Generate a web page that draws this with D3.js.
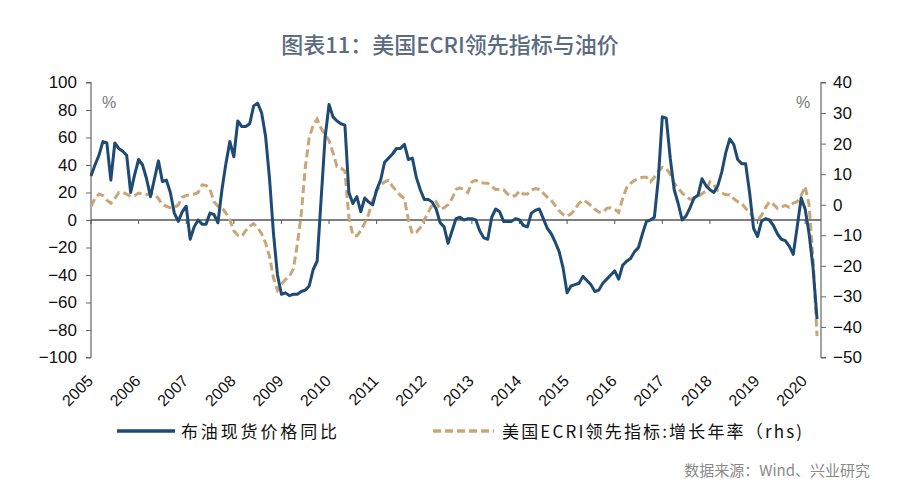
<!DOCTYPE html>
<html><head><meta charset="utf-8">
<script src="https://cdn.jsdelivr.net/npm/d3@7"></script>
<style>body{margin:0;background:#fff}svg{display:block}</style>
</head><body>
<svg id="c" width="900" height="493"></svg>
<script>
const years = ["2005","2006","2007","2008","2009","2010","2011","2012","2013","2014","2015","2016","2017","2018","2019","2020"];
const leftTicks = [100,80,60,40,20,0,-20,-40,-60,-80,-100];
const rightTicks = [40,30,20,10,0,-10,-20,-30,-40,-50];
// Brent spot price YoY (%), monthly Jan 2005 - Apr 2020 (left axis)
const brentYoY = [32,40,47,57,56,29,56,52,50,47,20,33,44,40,30,17,30,43,28,29,
20,5,-1,6,10,-14,-5,0,-3,-3,5,4,-2,22,41,57,46,72,68,68,
70,83,85,78,61,30,-10,-40,-54,-53,-55,-54,-54,-52,-51,-48,-36,-30,15,60,
84,75,72,70,69,20,12,17,6,16,13,11,22,29,42,45,48,52,52,55,
44,45,31,22,15,15,13,8,-2,-5,-17,-8,1,2,0,1,1,0,-8,-13,
-14,2,8,6,-1,-1,-1,1,0,-4,-5,5,7,8,1,-6,-10,-16,-23,-35,
-53,-48,-47,-46,-41,-44,-47,-52,-51,-46,-43,-40,-37,-43,-33,-30,-28,-23,-20,-10,
-1,0,2,30,75,74,45,22,12,0,3,9,16,18,30,25,22,20,25,35,
49,59,55,44,41,41,20,-6,-12,-1,1,0,-4,-10,-14,-15,-19,-25,-5,16,
8,-10,-35,-72];
// US ECRI Weekly Leading Index, growth rate (%), rhs
const ecriGrowth = [-0.5,2,3.5,3,1.5,0.5,2,4,4,3.5,2.7,3,3.8,3.5,3.3,3.8,3.5,2,0,-0.5,
-1,-1,0,2.5,3,3.3,3.5,4,6.5,6.3,5,1,-0.5,-1,-2.7,-5,-8.5,-10,-10.4,-8.5,
-7,-6.2,-7.5,-9.5,-12.5,-17,-24,-28,-26,-24.5,-23.5,-21,-13,-3,12,22,26,28,25,23,
21,17,12.5,12,11,-4,-10,-10.2,-8.5,-6,-3,1.5,4.5,6.5,7.5,8,6,4.5,3,2,
-5,-9.5,-9,-7.5,-5,-2.5,0,1,-1.5,-1,0,2,5,5.5,5,4,7.5,8,7.3,7.1,
7,6,5,5,5,3.5,2.7,3,4.5,3.5,3.5,4.8,5.3,5,3.8,2.5,1.5,-0.3,-2,-3.2,
-3.8,-3,-1.5,0.5,1.5,0.8,-0.3,-1.5,-2.4,-2.5,-1.2,-1,-1.5,-2.5,2,5.5,7,8,8.5,9,
9,7.5,9,11,12.3,11.8,10,7,5.5,3.8,2.8,1.8,2,2.7,3.6,4.5,7.5,6.5,4.5,3.8,
3.3,3.3,2,1,0.5,-1.2,-2.3,-4.5,-5,-3.5,-1,1,0.2,-1.2,-0.8,-0.2,-0.8,0.5,1,3,
6,0,-18,-43];

const svg = d3.select("#c");
const L = 91, R = 821, T = 82.5, B = 357.5;
const x = d3.scaleLinear().domain([0,184]).range([L,R]);
const yL = d3.scaleLinear().domain([-100,100]).range([B,T]);
const yR = d3.scaleLinear().domain([-50,40]).range([B,T]);
const fmt = d => d < 0 ? "\u2212" + Math.abs(d) : String(d);
const axisFont = "'Liberation Sans', Arial, sans-serif";
const cjk = "'Noto Sans CJK SC', 'Noto Sans', sans-serif";

// title
svg.append("text").attr("x",450).attr("y",53).attr("text-anchor","middle")
  .attr("font-family",cjk).attr("font-size",22).attr("font-weight",500)
  .attr("fill","#5b6b80").text("图表11：美国ECRI领先指标与油价");

// left axis
const gl = svg.append("g").attr("transform",`translate(${L},0)`)
  .call(d3.axisLeft(yL).tickValues(leftTicks).tickSize(5).tickPadding(9).tickFormat(fmt));
gl.select(".domain").attr("stroke","#666").attr("stroke-width",1.2).attr("d",`M-5,${T}H0V${B}H-5`);
gl.selectAll(".tick line").attr("stroke","#666");
gl.selectAll("text").attr("font-family",axisFont).attr("font-size",17).attr("fill","#111");

// right axis
const gr = svg.append("g").attr("transform",`translate(${R},0)`)
  .call(d3.axisRight(yR).tickValues(rightTicks).tickSize(5).tickPadding(7).tickFormat(fmt));
gr.select(".domain").attr("stroke","#666").attr("stroke-width",1.2).attr("d",`M5,${T}H0V${B}H5`);
gr.selectAll(".tick line").attr("stroke","#666");
gr.selectAll("text").attr("font-family",axisFont).attr("font-size",17).attr("fill","#111");

// % labels
svg.append("text").attr("x",102).attr("y",108).attr("font-family",axisFont).attr("font-size",16).attr("fill","#777").text("%");
svg.append("text").attr("x",796).attr("y",108).attr("font-family",axisFont).attr("font-size",16).attr("fill","#777").text("%");

// zero line with year ticks
const y0 = yL(0);
svg.append("line").attr("x1",L).attr("x2",R).attr("y1",y0).attr("y2",y0).attr("stroke","#555").attr("stroke-width",1.3);
svg.append("g").selectAll("line").data(years).join("line")
  .attr("x1",(d,i)=>x(i*12)).attr("x2",(d,i)=>x(i*12))
  .attr("y1",y0).attr("y2",y0+4).attr("stroke","#555");

// year labels
svg.append("g").selectAll("text").data(years).join("text")
  .attr("transform",(d,i)=>`translate(${x(i*12)+3},${382}) rotate(-45)`)
  .attr("text-anchor","end").attr("font-family",axisFont).attr("font-size",16).attr("fill","#111")
  .text(d=>d);

// lines
const lineL = d3.line().x((d,i)=>x(i)).y(d=>yL(d));
const lineR = d3.line().x((d,i)=>x(i)).y(d=>yR(d));
svg.append("path").datum(ecriGrowth).attr("d",lineR).attr("fill","none")
  .attr("stroke","#c9a677").attr("stroke-width",3).attr("stroke-dasharray","8,4");
svg.append("path").datum(brentYoY).attr("d",lineL).attr("fill","none")
  .attr("stroke","#1f4a74").attr("stroke-width",3).attr("stroke-linejoin","round");

// legend
svg.append("line").attr("x1",117).attr("x2",175).attr("y1",431).attr("y2",431).attr("stroke","#1f4a74").attr("stroke-width",3.5);
svg.append("text").attr("x",181).attr("y",437.5).attr("font-family",cjk).attr("font-size",17)
  .attr("textLength",156).attr("lengthAdjust","spacing").attr("fill","#111").text("布油现货价格同比");
svg.append("line").attr("x1",433).attr("x2",494).attr("y1",431).attr("y2",431).attr("stroke","#c9a677").attr("stroke-width",3.5).attr("stroke-dasharray","8,4");
svg.append("text").attr("x",502).attr("y",437.5).attr("font-family",cjk).attr("font-size",17)
  .attr("textLength",300).attr("lengthAdjust","spacing").attr("fill","#111").text("美国ECRI领先指标:增长年率（rhs)");

// source
svg.append("text").attr("x",870).attr("y",476).attr("text-anchor","end").attr("font-family",cjk).attr("font-size",15)
  .attr("fill","#8a8a8a").text("数据来源：Wind、兴业研究");
</script>
</body></html>
